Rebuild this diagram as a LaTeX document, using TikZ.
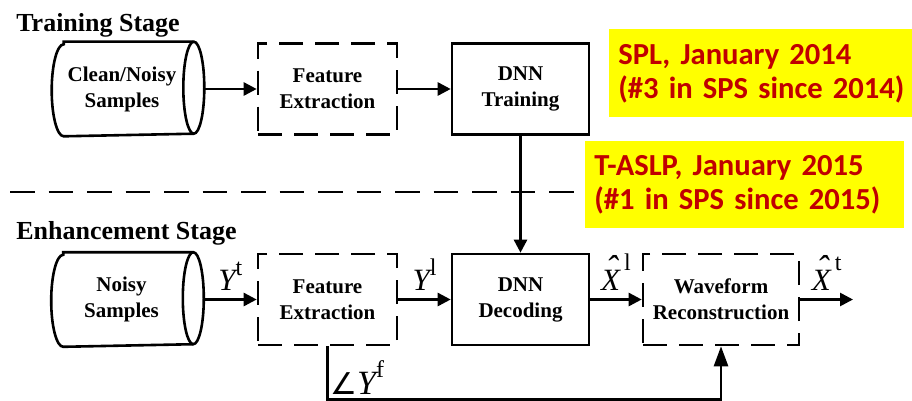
\documentclass[tikz,border=0pt]{standalone}
\usepackage{fontspec}
\setmainfont{Liberation Serif}
\newfontfamily\notefont{Carlito}
\newfontfamily\anglefont{DejaVu Sans}
\usetikzlibrary{arrows.meta}
\definecolor{notered}{HTML}{C00000}
\definecolor{noteyellow}{HTML}{FFFF00}
\newcommand{\boxfont}{\fontsize{21}{26}\selectfont\bfseries}
\newcommand{\stagefont}{\fontsize{26}{30}\selectfont\bfseries}
\newcommand{\notesize}{\fontsize{30.6}{34}\selectfont}
\newcommand{\symsize}{\fontsize{31}{31}\selectfont}
\newcommand{\supsize}{\fontsize{24}{24}\selectfont}
% letter with an upright superscript raised by #3
\newcommand{\sig}[3]{{\itshape #1}\raisebox{#3}{\supsize #2}}
\newcommand{\hatX}{\ooalign{\itshape X\cr\hidewidth\raisebox{10pt}{\hspace{2pt}\fontsize{36}{36}\selectfont ˆ}\hidewidth\cr}\hspace{4pt}}
% outline of a lying cylinder, right face at #1.east
\newcommand{\storeoutline}[1]{%
  \draw ([xshift=12pt]#1.north west) -- ([xshift=1.5pt]#1.north east)
    arc[start angle=90,end angle=-90,x radius=10.5pt,y radius=46pt]
    -- ([xshift=12pt]#1.south west)
    arc[start angle=270,end angle=90,x radius=12pt,y radius=46pt] -- cycle;
  \draw ([xshift=1.5pt]#1.north east)
    arc[start angle=90,end angle=270,x radius=10.5pt,y radius=46pt];
  \coordinate (#1end) at ([xshift=12pt]#1.east);}

\begin{document}
\begin{tikzpicture}[x=1pt,y=1pt,line width=2.6pt,
  block/.style={draw,align=center,font=\boxfont,minimum width=137pt,minimum height=91pt,inner sep=0pt},
  dblock/.style={block,dash pattern=on 24pt off 12pt},
  store/.style={font=\boxfont,align=center,minimum width=138pt,minimum height=92pt,inner sep=0pt},
  flow/.style={-{Triangle[length=13pt,width=13pt]}},
  phaseflow/.style={-{Triangle[length=20pt,width=14pt]}},
  note/.style={fill=noteyellow,text=notered,font={\notefont\bfseries\notesize},align=left,inner xsep=9pt,anchor=north west},
  sym/.style={font=\symsize,inner sep=0pt},
  stage/.style={font=\stagefont,anchor=base west,inner sep=0pt}]
\useasboundingbox (0,0) rectangle (912,400);

\node[stage] (trainlbl) at (15,368.5) {Training Stage};
\node[stage] (enhlbl) at (15,160.7) {Enhancement Stage};

% training stage
\node[store] (cylT) at (122,311) {Clean/Noisy\\Samples};
\storeoutline{cylT}
\node[dblock,minimum width=139pt] (featT) at (327.5,311) {Feature\\Extraction};
\node[block] (dnnT) at (520.5,311) {DNN\\Training};

% enhancement stage
\node[store] (cylE) at (121.5,100.5) {Noisy\\Samples};
\storeoutline{cylE}
\node[dblock,minimum width=139pt] (featE) at (327.5,100.5) {Feature\\Extraction};
\node[block] (dnnD) at (520.5,100.5) {DNN\\Decoding};
\node[dblock,minimum width=156pt] (wave) at (721,100.5) {Waveform\\Reconstruction};
\coordinate (out) at (853,100.5);
\coordinate (phase) at (327.5,0.5);

\draw[flow] (cylTend) -- (featT.west);
\draw[flow] (featT.east) -- (dnnT.west);
\draw[flow] (dnnT.south) -- (dnnD.north);
\draw[flow] (cylEend) -- node[sym,above=8pt] {\sig{Y}{t}{15pt}} (featE.west);
\draw[flow] (featE.east) -- node[sym,above=8pt] {\sig{Y}{l}{15pt}} (dnnD.west);
\draw[flow] (dnnD.east) -- node[sym,above=8pt] {\sig{\hatX}{l}{20pt}} (wave.west);
\draw[flow] (wave.east) -- node[sym,above=8pt] {\sig{\hatX}{t}{20pt}} (out);
\draw[phaseflow] (featE.south) -- (phase)
  node[sym,font=\fontsize{34}{34}\selectfont,anchor=base west,xshift=1.5pt,yshift=5pt]
  {{\anglefont\fontsize{30}{30}\selectfont ∠}\sig{Y}{f}{17pt}}
  -| (wave.south);

% stage separator and notes
\draw[dash pattern=on 24.5pt off 14pt] (10,208) -- (584,208);
\node[note,minimum width=304pt,minimum height=88pt,text width=300pt] (note1) at (608,372)
  {SPL, January 2014\\(\#3 in SPS since 2014)};
\node[note,minimum width=319pt,minimum height=87pt,text width=301pt] (note2) at (584,260)
  {T-ASLP, January 2015\\(\#1 in SPS since 2015)};
\end{tikzpicture}
\end{document}
